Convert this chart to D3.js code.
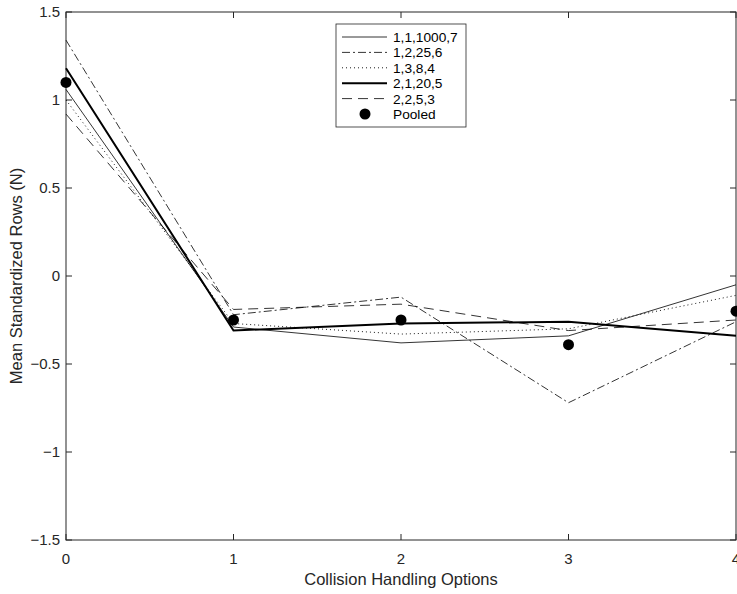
<!DOCTYPE html>
<html>
<head>
<meta charset="utf-8">
<script src="https://cdn.jsdelivr.net/npm/d3@7"></script>
<style>
  body { margin: 0; background: #fff; }
  svg { display: block; font-family: "Liberation Sans", Arial, sans-serif; }
</style>
</head>
<body>
<svg id="svg" width="737" height="594"></svg>
<script>
// options on the x axis
const options = [0, 1, 2, 3, 4];
const yTicks = [-1.5, -1, -0.5, 0, 0.5, 1, 1.5];

// one array per parameter set
const s11000 = [1.06, -0.29, -0.38, -0.34, -0.05];
const s12256 = [1.34, -0.22, -0.12, -0.72, -0.26];
const s1384 = [1.00, -0.27, -0.33, -0.30, -0.11];
const s21205 = [1.18, -0.31, -0.27, -0.26, -0.34];
const s2253 = [0.92, -0.19, -0.16, -0.31, -0.25];
const pooled = [1.10, -0.25, -0.25, -0.39, -0.20];

const seriesNames = ["1,1,1000,7", "1,2,25,6", "1,3,8,4", "2,1,20,5", "2,2,5,3"];
const seriesValues = [s11000, s12256, s1384, s21205, s2253];
const seriesStyle = [
  { w: 0.8, dash: null },
  { w: 0.8, dash: "8,3,2,3" },
  { w: 0.9, dash: "1,3" },
  { w: 2, dash: null },
  { w: 0.8, dash: "10,6" }
];

const svg = d3.select("#svg");
const pLeft = 66, pRight = 736, pTop = 12, pBottom = 540;
const axisColor = "#262626";

const x = d3.scaleLinear().domain([0, 4]).range([pLeft, pRight]);
const y = d3.scaleLinear().domain([-1.5, 1.5]).range([pBottom, pTop]);

// box
svg.append("rect").attr("x", pLeft).attr("y", pTop)
  .attr("width", pRight - pLeft).attr("height", pBottom - pTop)
  .attr("fill", "none").attr("stroke", axisColor).attr("stroke-width", 1);

// ticks, inward on all sides
const tl = 6;
yTicks.forEach(v => {
  svg.append("line").attr("x1", pLeft).attr("x2", pLeft + tl).attr("y1", y(v)).attr("y2", y(v)).attr("stroke", axisColor);
  svg.append("line").attr("x1", pRight).attr("x2", pRight - tl).attr("y1", y(v)).attr("y2", y(v)).attr("stroke", axisColor);
  svg.append("text").attr("x", pLeft - 6).attr("y", y(v) + 5.3)
    .attr("text-anchor", "end").style("font-size", "15px").style("fill", axisColor)
    .text(d3.format("")(v));
});
options.forEach(v => {
  svg.append("line").attr("x1", x(v)).attr("x2", x(v)).attr("y1", pBottom).attr("y2", pBottom - tl).attr("stroke", axisColor);
  svg.append("line").attr("x1", x(v)).attr("x2", x(v)).attr("y1", pTop).attr("y2", pTop + tl).attr("stroke", axisColor);
  svg.append("text").attr("x", x(v)).attr("y", 564)
    .attr("text-anchor", "middle").style("font-size", "15px").style("fill", axisColor)
    .text(v);
});

// axis titles
svg.append("text").attr("x", (pLeft + pRight) / 2).attr("y", 585)
  .attr("text-anchor", "middle").style("font-size", "16.5px").style("fill", axisColor)
  .text("Collision Handling Options");
svg.append("text").attr("transform", "translate(22," + ((pTop + pBottom) / 2) + ") rotate(-90)")
  .attr("text-anchor", "middle").style("font-size", "16.5px").style("fill", axisColor)
  .text("Mean Standardized Rows (N)");

// lines
const line = d3.line().x((d, i) => x(options[i])).y(d => y(d));
seriesValues.forEach((vals, k) => {
  svg.append("path").datum(vals).attr("d", line)
    .attr("fill", "none").attr("stroke", "#000")
    .attr("stroke-width", seriesStyle[k].w)
    .attr("stroke-dasharray", seriesStyle[k].dash);
});

// pooled markers
svg.selectAll(".pool").data(pooled).enter().append("circle")
  .attr("cx", (d, i) => x(options[i])).attr("cy", d => y(d)).attr("r", 5.5)
  .attr("fill", "#000");

// legend
const lg = svg.append("g");
const lx = 336, ly = 24, rowH = 15.4;
lg.append("rect").attr("x", lx).attr("y", ly).attr("width", 130).attr("height", 103)
  .attr("fill", "#fff").attr("stroke", axisColor).attr("stroke-width", 0.8);
seriesNames.forEach((n, k) => {
  const yy = ly + 13 + k * rowH;
  lg.append("line").attr("x1", lx + 6).attr("x2", lx + 51).attr("y1", yy).attr("y2", yy)
    .attr("stroke", "#000").attr("stroke-width", seriesStyle[k].w)
    .attr("stroke-dasharray", seriesStyle[k].dash);
  lg.append("text").attr("x", lx + 57).attr("y", yy + 5).style("font-size", "13.7px").style("fill", "#000").text(n);
});
const py = ly + 13 + 5 * rowH;
lg.append("circle").attr("cx", lx + 29).attr("cy", py).attr("r", 5.5).attr("fill", "#000");
lg.append("text").attr("x", lx + 57).attr("y", py + 5).style("font-size", "13.7px").style("fill", "#000").text("Pooled");
</script>
</body>
</html>
